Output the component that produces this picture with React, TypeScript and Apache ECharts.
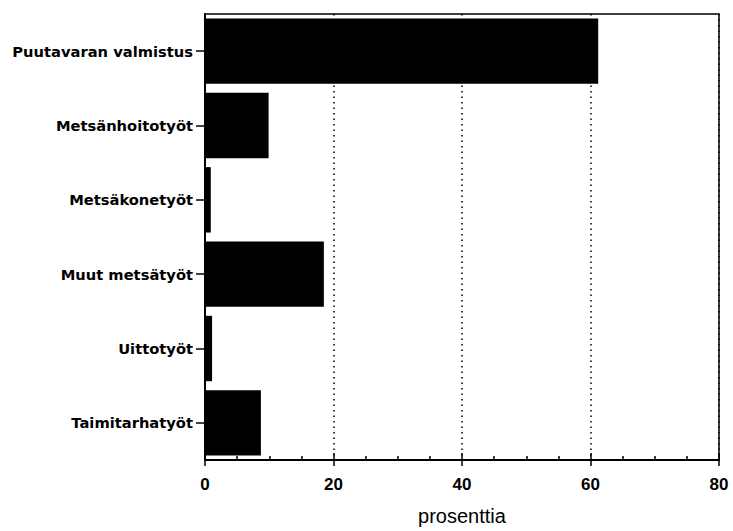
import React, { useEffect, useRef } from "react";
import * as echarts from "echarts";

const categories = [
  "Puutavaran valmistus",
  "Metsänhoitotyöt",
  "Metsäkonetyöt",
  "Muut metsätyöt",
  "Uittotyöt",
  "Taimitarhatyöt",
];
const values = [61.2, 9.9, 0.9, 18.5, 1.1, 8.7];
const xTicks = [0, 20, 40, 60, 80];
const xTitle = "prosenttia";

export default function App() {
  const ref = useRef<HTMLDivElement>(null);
  useEffect(() => {
    if (!ref.current) return;
    const chart = echarts.init(ref.current, undefined, { renderer: "svg" });
    const font = "'Liberation Sans', Arial, Helvetica, sans-serif";
    const yFont = "'DejaVu Sans', 'Liberation Sans', sans-serif";
    chart.setOption({
      animation: false,
      backgroundColor: "#ffffff",
      grid: {
        left: 205,
        right: 14,
        top: 14,
        bottom: 68,
        show: true,
        borderColor: "#000",
        borderWidth: 1.5,
        containLabel: false,
      },
      xAxis: [
        {
          type: "value",
          min: xTicks[0],
          max: xTicks[xTicks.length - 1],
          interval: 20,
          position: "bottom",
          name: xTitle,
          nameLocation: "middle",
          nameGap: 46,
          nameTextStyle: { color: "#000", fontSize: 20, fontFamily: font },
          axisLine: { show: true, lineStyle: { color: "#000", width: 2 } },
          axisTick: { show: true, length: 6, lineStyle: { color: "#000", width: 1.5 } },
          axisLabel: { color: "#000", fontSize: 17, fontWeight: "bold", fontFamily: font, margin: 16 },
          splitLine: {
            show: true,
            lineStyle: { color: "#000", type: [1.5, 4], width: 1.5 },
          },
        },
        {
          type: "value",
          min: xTicks[0],
          max: xTicks[xTicks.length - 1],
          interval: 20,
          position: "bottom",
          axisLine: { show: false },
          axisTick: { show: true, inside: true, length: 7, lineStyle: { color: "#000", width: 1.5 } },
          minorTick: { show: true, splitNumber: 4, length: 4, lineStyle: { color: "#000", width: 1.5 } },
          axisLabel: { show: false },
          splitLine: { show: false },
        },
      ],
      yAxis: {
        type: "category",
        data: categories,
        inverse: true,
        axisLine: { show: true, lineStyle: { color: "#000", width: 2 } },
        axisTick: { show: true, alignWithLabel: true, length: 9, lineStyle: { color: "#000", width: 1.5 } },
        axisLabel: { color: "#000", fontSize: 14.7, fontWeight: "bold", fontFamily: yFont, margin: 12 },
        splitLine: { show: false },
      },
      series: [
        {
          type: "bar",
          data: values,
          xAxisIndex: 0,
          barCategoryGap: "12%",
          itemStyle: { color: "#000" },
        },
      ],
    });
    return () => chart.dispose();
  }, []);
  return (
    <div
      ref={ref}
      style={{ position: "fixed", left: 0, top: 0, width: 733, height: 531, overflow: "hidden" }}
    />
  );
}
